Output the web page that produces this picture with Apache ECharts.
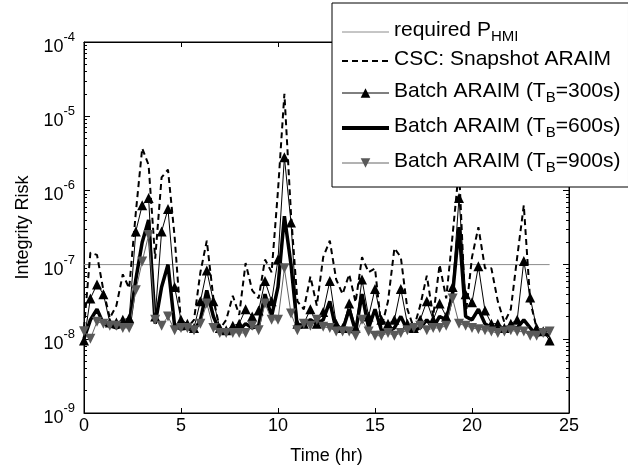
<!DOCTYPE html>
<html><head><meta charset="utf-8">
<script src="https://cdn.jsdelivr.net/npm/echarts@6/dist/echarts.min.js"></script>
<style>html,body{margin:0;padding:0;background:#fff}#c{width:628px;height:470px}</style>
</head><body><div id="c"></div>
<script>
// ---- data ----
const timeHr = [0,0.33,0.67,1,1.33,1.67,2,2.33,2.67,3,3.33,3.67,4,4.33,4.67,5,5.33,5.67,6,6.33,6.67,7,7.33,7.67,8,8.33,8.67,9,9.33,9.67,10,10.33,10.67,11,11.33,11.67,12,12.33,12.67,13,13.33,13.67,14,14.33,14.67,15,15.33,15.67,16,16.33,16.67,17,17.33,17.67,18,18.33,18.67,19,19.33,19.67,20,20.33,20.67,21,21.33,21.67,22,22.33,22.67,23,23.33,23.67,24];

const reqTime = [0, 24];
const reqPHMI = [1e-7, 1e-7];

const cscSnapshot = [1.4e-8,1.45e-7,1.35e-7,4.5e-8,1.9e-8,2.8e-8,7.4e-8,4.8e-8,5e-7,3.7e-6,2.2e-6,1.2e-7,1.5e-6,1.9e-6,2.4e-7,1.6e-8,1.4e-8,1.8e-8,7.9e-8,2.1e-7,3.5e-8,1.35e-8,1.8e-8,3.8e-8,2.1e-8,1.05e-7,4.5e-8,3.5e-8,1.17e-7,7.9e-8,1.0e-6,2.0e-5,4.8e-7,3.2e-8,2.5e-8,6.9e-8,2.8e-8,1.26e-7,2.1e-7,6.3e-8,4.0e-8,7.4e-8,3.1e-8,1.26e-7,7.9e-8,8.9e-8,1.4e-8,3.2e-8,1.66e-7,1.26e-7,2.5e-8,1.4e-8,2.8e-8,7.1e-8,2.0e-8,1.0e-7,3.5e-8,2.5e-7,2.0e-6,2.0e-8,1.26e-7,3.2e-7,8.9e-8,8.9e-8,3.2e-8,1.66e-8,2.5e-8,1.26e-7,6.3e-7,3.2e-8,1.4e-8,1.26e-8,1.26e-8];

const batch300 = [9.5e-9,3.5e-8,5.4e-8,4.0e-8,1.66e-8,1.66e-8,1.8e-8,1.9e-8,2.8e-7,6.3e-7,7.9e-7,2.0e-8,2.8e-7,5.6e-7,5.0e-8,1.8e-8,1.6e-8,1.4e-8,3.2e-8,8.3e-8,3.2e-8,1.4e-8,1.3e-8,1.5e-8,1.6e-8,2.5e-8,2.0e-8,2.4e-8,6.0e-8,3.2e-8,1.17e-7,2.8e-6,3.7e-7,1.6e-8,1.6e-8,2.5e-8,1.6e-8,2.3e-8,6.0e-8,1.6e-8,1.4e-8,3.0e-8,1.4e-8,6.3e-8,2.0e-8,4.7e-8,1.8e-8,1.6e-8,1.8e-8,4.7e-8,1.6e-8,1.4e-8,1.8e-8,3.2e-8,1.8e-8,3.0e-8,2.0e-8,5.0e-8,7.9e-7,4.0e-8,3.1e-8,9.5e-8,2.4e-8,1.6e-8,1.6e-8,1.4e-8,1.6e-8,1.8e-8,1.12e-7,3.6e-8,1.4e-8,1.26e-8,9.5e-9];

const batch600 = [1.0e-8,1.8e-8,2.5e-8,1.6e-8,1.5e-8,1.4e-8,1.5e-8,1.5e-8,6.3e-8,2.0e-7,4.0e-7,1.6e-8,5.0e-8,1.0e-7,1.5e-8,1.35e-8,1.4e-8,1.26e-8,1.8e-8,4.5e-8,2.0e-8,1.26e-8,1.2e-8,1.26e-8,1.3e-8,1.6e-8,1.4e-8,1.5e-8,4.0e-8,2.0e-8,5.0e-8,4.5e-7,1.0e-7,1.4e-8,1.6e-8,1.8e-8,1.6e-8,1.8e-8,3.2e-8,1.3e-8,1.3e-8,2.5e-8,1.26e-8,4.0e-8,1.4e-8,2.5e-8,1.3e-8,1.26e-8,1.4e-8,2.0e-8,1.3e-8,1.3e-8,1.4e-8,1.8e-8,1.4e-8,2.0e-8,1.8e-8,4.0e-8,3.2e-7,2.0e-8,1.8e-8,2.5e-8,1.6e-8,1.4e-8,1.3e-8,1.26e-8,1.4e-8,1.4e-8,1.8e-8,1.4e-8,1.1e-8,1.2e-8,1.1e-8];

const batch900 = [1.26e-8,1.0e-8,1.7e-8,1.6e-8,1.5e-8,1.5e-8,1.4e-8,1.4e-8,4.5e-8,1.1e-7,2.5e-7,1.8e-8,1.5e-8,2.0e-8,1.3e-8,1.4e-8,1.4e-8,1.3e-8,1.6e-8,3.0e-8,1.4e-8,1.2e-8,1.2e-8,1.2e-8,1.2e-8,1.2e-8,1.5e-8,1.3e-8,3.0e-8,1.8e-8,1.8e-8,8.9e-8,2.2e-8,1.3e-8,1.6e-8,1.5e-8,1.8e-8,1.45e-8,1.4e-8,1.25e-8,1.25e-8,1.25e-8,1.1e-8,1.8e-8,1.25e-8,1.1e-8,1.1e-8,1.2e-8,1.1e-8,1.2e-8,1.3e-8,1.4e-8,1.5e-8,1.3e-8,1.4e-8,1.4e-8,1.5e-8,3.5e-8,1.6e-8,1.5e-8,1.4e-8,1.35e-8,1.3e-8,1.25e-8,1.2e-8,1.25e-8,1.3e-8,1.25e-8,1.25e-8,1.1e-8,1.1e-8,1.2e-8,1.25e-8];

const xTicks = [0, 5, 10, 15, 20, 25];
const yDecades = [-9, -8, -7, -6, -5, -4];
const seriesNames = ['required P_HMI', 'CSC: Snapshot ARAIM', 'Batch ARAIM (T_B=300s)', 'Batch ARAIM (T_B=600s)', 'Batch ARAIM (T_B=900s)'];

// ---- build ----
function pairs(xs, ys) { return xs.map((x, i) => [x, ys[i]]); }
const minorLog = [];
for (let d = yDecades[0]; d < yDecades[yDecades.length - 1]; d++) {
  for (let m = 2; m <= 9; m++) minorLog.push(d + Math.log10(m));
}
const FONT = 'Liberation Sans';
const chart = echarts.init(document.getElementById('c'), null, {renderer: 'canvas'});

function legendFmt(name) {
  const i = name.indexOf('_');
  if (i < 0) return '{t|' + name + '}';
  const rest = name.slice(i + 1);
  const m = rest.match(/^([A-Za-z]+)(.*)$/);
  return '{t|' + name.slice(0, i) + '}{sub|' + m[1] + '}' + (m[2] ? '{t|' + m[2] + '}' : '');
}

const lineOpts = () => ({show: true, onZero: false, lineStyle: {color: '#000', width: 1}});
const minorAxis = (pos) => ({
  type: 'value', position: pos, min: yDecades[0], max: yDecades[yDecades.length - 1],
  axisLine: {show: false, onZero: false}, axisLabel: {show: false}, splitLine: {show: false},
  axisTick: {show: true, inside: true, length: 3, customValues: minorLog, lineStyle: {color: '#000', width: 1}}
});

chart.setOption({
  animation: false,
  backgroundColor: '#fff',
  grid: {left: 84, right: 59, top: 42, bottom: 51, containLabel: false,
         show: true, borderColor: '#000', borderWidth: 1, backgroundColor: 'transparent'},
  xAxis: [
    {type: 'value', position: 'bottom', min: xTicks[0], max: xTicks[xTicks.length - 1], interval: 5,
     name: 'Time (hr)', nameLocation: 'middle', nameGap: 34,
     nameTextStyle: {fontFamily: FONT, fontSize: 18, color: '#000'},
     axisLine: lineOpts(),
     axisTick: {show: true, inside: true, length: 5, lineStyle: {color: '#000'}},
     axisLabel: {fontFamily: FONT, fontSize: 18, color: '#000', margin: 4},
     splitLine: {show: false}},
    {type: 'value', position: 'top', min: xTicks[0], max: xTicks[xTicks.length - 1], interval: 5,
     axisLine: lineOpts(),
     axisTick: {show: true, inside: true, length: 5, lineStyle: {color: '#000'}},
     axisLabel: {show: false}, splitLine: {show: false}}
  ],
  yAxis: [
    {type: 'log', logBase: 10, position: 'left', min: Math.pow(10, yDecades[0]), max: Math.pow(10, yDecades[yDecades.length - 1]),
     name: 'Integrity Risk', nameLocation: 'middle', nameGap: 47,
     nameTextStyle: {fontFamily: FONT, fontSize: 18, color: '#000'},
     axisLine: lineOpts(),
     axisTick: {show: true, inside: true, length: 6, lineStyle: {color: '#000'}},
     axisLabel: {
       margin: 9, color: '#000',
       formatter: v => '{b|10}{s|' + Math.round(Math.log10(v)) + '}',
       rich: {
         b: {fontFamily: FONT, fontSize: 18, color: '#000', padding: [10, 0, 0, 0], verticalAlign: 'bottom'},
         s: {fontFamily: FONT, fontSize: 13, color: '#000', padding: [3, 0, 0, 0], verticalAlign: 'top'}
       }
     },
     splitLine: {show: false}},
    {type: 'log', logBase: 10, position: 'right', min: Math.pow(10, yDecades[0]), max: Math.pow(10, yDecades[yDecades.length - 1]),
     axisLine: lineOpts(),
     axisTick: {show: true, inside: true, length: 6, lineStyle: {color: '#000'}},
     axisLabel: {show: false}, splitLine: {show: false}},
    minorAxis('left'),
    minorAxis('right')
  ],
  legend: {
    orient: 'vertical', left: 332, top: 3,
    padding: [11, 8, 12, 8], itemGap: 5, itemWidth: 47, itemHeight: 12,
    backgroundColor: '#fff', borderColor: '#000', borderWidth: 1, borderRadius: 0,
    data: [
      {name: seriesNames[0], itemStyle: {opacity: 0}, lineStyle: {color: '#8c8c8c', width: 1}},
      {name: seriesNames[1], itemStyle: {opacity: 0}, lineStyle: {color: '#000', width: 2, type: [6, 4]}},
      {name: seriesNames[2], lineStyle: {color: '#000', width: 1}},
      {name: seriesNames[3], itemStyle: {opacity: 0}, lineStyle: {color: '#000', width: 4}},
      {name: seriesNames[4], lineStyle: {color: '#666', width: 1}}
    ],
    formatter: legendFmt,
    textStyle: {
      fontFamily: FONT, fontSize: 21, color: '#000',
      rich: {
        t: {fontFamily: FONT, fontSize: 21, lineHeight: 24, color: '#000', verticalAlign: 'top'},
        sub: {fontFamily: FONT, fontSize: 15, lineHeight: 15, color: '#000', verticalAlign: 'bottom', padding: [15, 0, 0, 0]}
      }
    }
  },
  series: [
    {name: seriesNames[0], type: 'line', data: pairs(reqTime, reqPHMI), symbol: 'none',
     lineStyle: {color: '#8c8c8c', width: 1}, itemStyle: {color: '#8c8c8c'}},
    {name: seriesNames[1], type: 'line', data: pairs(timeHr, cscSnapshot), symbol: 'none',
     lineStyle: {color: '#000', width: 2, type: [6, 4]}, itemStyle: {color: '#000'}},
    {name: seriesNames[2], type: 'line', data: pairs(timeHr, batch300), symbol: 'triangle', symbolSize: 10,
     lineStyle: {color: '#000', width: 1}, itemStyle: {color: '#000'}},
    {name: seriesNames[3], type: 'line', data: pairs(timeHr, batch600), symbol: 'none',
     lineStyle: {color: '#000', width: 3.5}, itemStyle: {color: '#000'}},
    {name: seriesNames[4], type: 'line', data: pairs(timeHr, batch900), symbol: 'triangle', symbolRotate: 180, symbolSize: 10,
     lineStyle: {color: '#666', width: 1}, itemStyle: {color: '#595959'}}
  ]
});
</script>
</body></html>
